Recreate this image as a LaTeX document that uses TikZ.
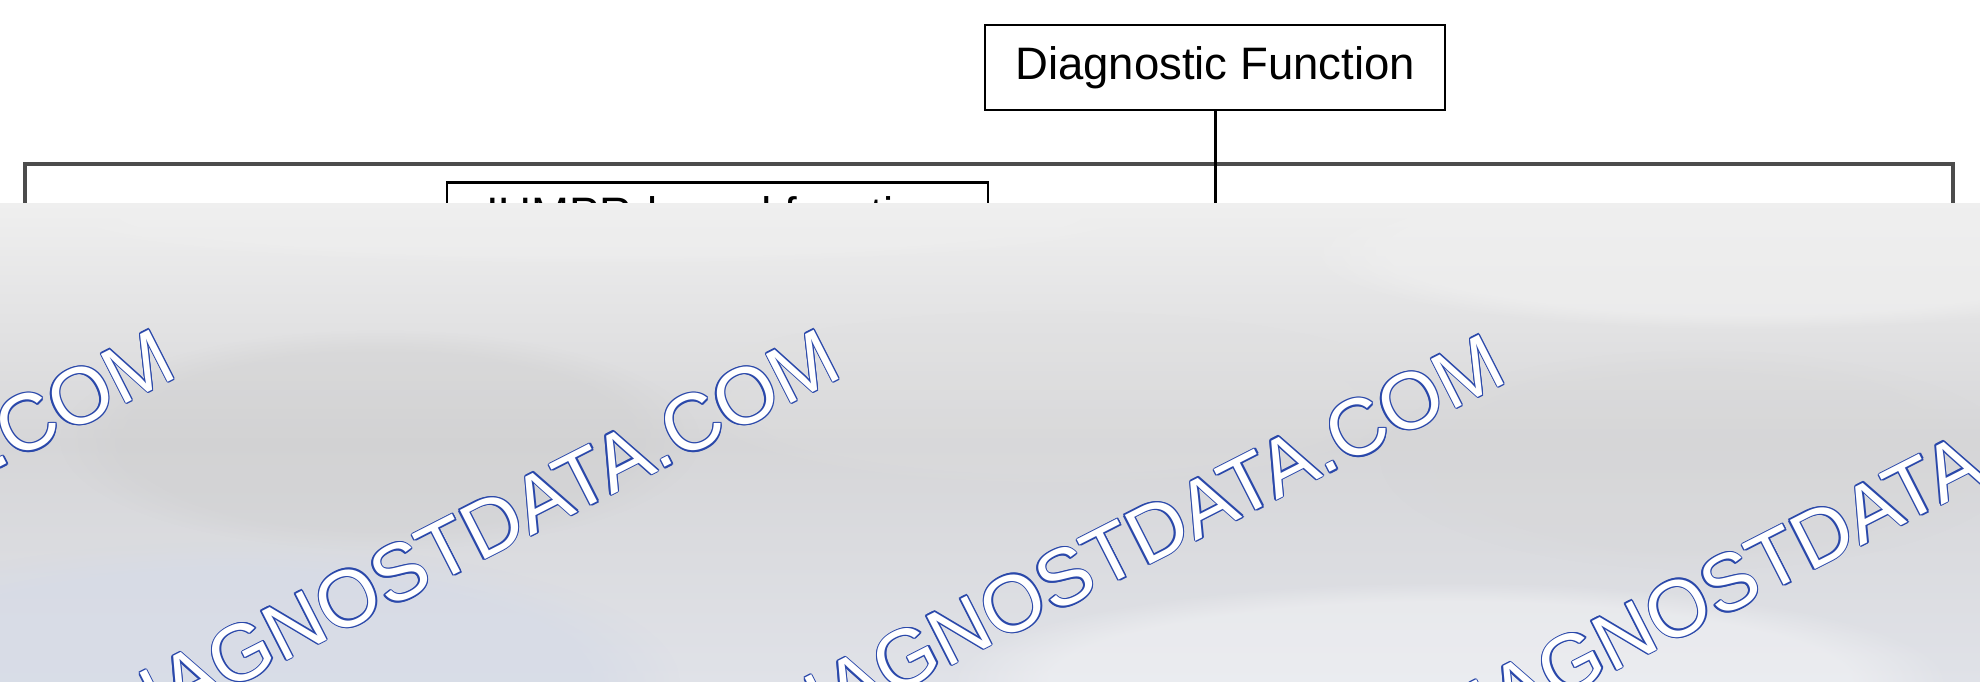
\documentclass[tikz,border=0pt]{standalone}
\usepackage{fontspec}
\setmainfont{Liberation Sans}
\usetikzlibrary{fadings}
\definecolor{wmblue}{HTML}{2A48AA}
\definecolor{hgray}{HTML}{4C4C4C}
\definecolor{ovtop}{HTML}{EFEFEF}
\definecolor{ovmid}{HTML}{D6D6D8}
\definecolor{ovbot}{HTML}{E0E2E8}
\definecolor{ovblue}{HTML}{D6DBE7}
\newcommand\oltext[1]{\leavevmode
  \rlap{\textcolor{wmblue}{\kern1.4pt#1}}%
  \rlap{\textcolor{wmblue}{\kern-1.4pt#1}}%
  \rlap{\textcolor{wmblue}{\raisebox{1.4pt}{#1}}}%
  \rlap{\textcolor{wmblue}{\raisebox{-1.4pt}{#1}}}%
  \rlap{\textcolor{wmblue}{\kern1pt\raisebox{1pt}{#1}}}%
  \rlap{\textcolor{wmblue}{\kern1pt\raisebox{-1pt}{#1}}}%
  \rlap{\textcolor{wmblue}{\kern-1pt\raisebox{1pt}{#1}}}%
  \rlap{\textcolor{wmblue}{\kern-1pt\raisebox{-1pt}{#1}}}%
  \textcolor{white}{#1}}
\begin{document}
\begin{tikzpicture}[x=1pt,y=-1pt,
  box/.style={draw=black,line width=2.6pt,fill=white,inner sep=0pt,
    font=\fontsize{45.5}{52}\selectfont},
  hline/.style={draw=hgray,line width=4pt,line join=miter},
  vline/.style={draw=black,line width=3pt},
  blob/.style={path fading=circle with fuzzy edge 20 percent},
  wm/.style={inner sep=0pt,rotate=27,anchor=base east,
    font=\fontsize{80}{90}\selectfont}]
\useasboundingbox (0,0) rectangle (1980,682);
\fill[white] (0,0) rectangle (1980,682);
% diagram
\coordinate (lbot) at (25,300);
\coordinate (lcorner) at (25,164);
\coordinate (rcorner) at (1953,164);
\coordinate (rbot) at (1953,300);
\coordinate (cbot) at (1215,300);
\node[box,minimum width=460pt,minimum height=85pt] (df) at (1215,67.5) {Diagnostic Function};
\draw[hline] (lbot) -- (lcorner) -- (rcorner) -- (rbot);
\draw[vline] (df.south) -- (cbot);
\node[box,minimum width=541pt,minimum height=100pt,anchor=north] (iu) at (717.5,181) {};
\node[font=\fontsize{45.5}{52}\selectfont,anchor=base west,inner sep=0pt] (iut) at (486,229) {IUMPR-based function};
% overlay
\begin{scope}
\clip (0,203) rectangle (1980,682);
\shade[top color=ovtop,bottom color=ovbot,middle color=ovmid] (0,203) rectangle (1980,682);
\fill[color=ovtop,blob,opacity=0.7] (1750,250) ellipse (450 and 80);
\fill[color=ovtop,blob,opacity=0.5] (600,215) ellipse (600 and 50);
\fill[color=black!20,blob,opacity=0.35] (380,440) ellipse (320 and 110);
\fill[color=black!16,blob,opacity=0.3] (1700,460) ellipse (320 and 110);
\fill[color=black!12,blob,opacity=0.25] (1050,400) ellipse (380 and 90);
\fill[color=white,blob,opacity=0.35] (1450,682) ellipse (500 and 100);
\fill[color=ovblue,blob,opacity=0.7] (230,682) ellipse (450 and 140);
\end{scope}
% watermarks
\node[wm] (wm1) at (180,376) {\oltext{DIAGNOSTDATA.COM}};
\node[wm] (wm2) at (845,376) {\oltext{DIAGNOSTDATA.COM}};
\node[wm] (wm3) at (1510,381) {\oltext{DIAGNOSTDATA.COM}};
\node[wm] (wm4) at (2175,386) {\oltext{DIAGNOSTDATA.COM}};
\end{tikzpicture}
\end{document}
